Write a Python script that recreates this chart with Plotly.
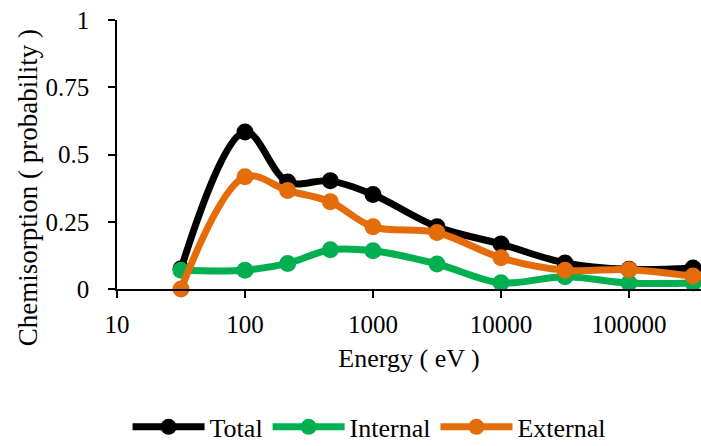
import plotly.graph_objects as go

energy = [31.6228, 100, 215.443, 464.159, 1000, 3162.28, 10000, 31622.8, 100000, 316228]
total = [0.075, 0.584, 0.398, 0.402, 0.351, 0.231, 0.167, 0.097, 0.073, 0.078]
internal = [0.07, 0.07, 0.095, 0.146, 0.142, 0.093, 0.023, 0.046, 0.022, 0.022]
external = [0.0, 0.417, 0.366, 0.324, 0.231, 0.21, 0.116, 0.07, 0.072, 0.048]

series = [("Total", total, "#000000"), ("Internal", internal, "#00B050"), ("External", external, "#E46C0A")]

x_ticks = [10, 100, 1000, 10000, 100000]
x_labels = ["10", "100", "1000", "10000", "100000"]
x_minor = [m * 10 ** d for d in range(1, 6) for m in range(2, 10) if m * 10 ** d < 350000]
y_ticks = [0, 0.25, 0.5, 0.75, 1]
y_labels = ["0", "0.25", "0.5", "0.75", "1"]

font = "'Times New Roman', 'Liberation Serif', serif"

fig = go.Figure()
# minor log ticks drawn as short vertical line markers just below the x axis
fig.add_trace(go.Scatter(
    x=x_minor, y=[-0.0093] * len(x_minor), mode="markers",
    marker=dict(symbol="line-ns", size=5, color="black", line=dict(width=1.2, color="black")),
    showlegend=False, hoverinfo="skip", cliponaxis=False,
))
for name, vals, col in series:
    fig.add_trace(go.Scatter(
        x=energy, y=vals, name=name, mode="lines+markers",
        line=dict(color=col, width=7, shape="spline", smoothing=1),
        marker=dict(color=col, size=17),
        cliponaxis=False,
    ))

fig.update_layout(
    width=701, height=446,
    margin=dict(l=117, r=0, t=20, b=157, autoexpand=False),
    paper_bgcolor="white", plot_bgcolor="white",
    font=dict(family=font, size=25, color="black"),
    showlegend=True,
    legend=dict(orientation="h", x=0.4316, xanchor="center", y=-0.6, yanchor="bottom",
                font=dict(family=font, size=26), itemwidth=72, traceorder="normal",
                tracegroupgap=0, itemclick=False),
    xaxis=dict(
        type="log", range=[1, 5.5625],
        tickmode="array", tickvals=x_ticks, ticktext=x_labels,
        tickfont=dict(family=font, size=25),
        showgrid=False, zeroline=False,
        showline=True, linecolor="black", linewidth=1.5,
        ticks="outside", ticklen=7, tickcolor="black", tickwidth=1.5,
        ticklabelstandoff=5,
        title=dict(text="Energy ( eV )", font=dict(family=font, size=26), standoff=12),
        automargin=False,
    ),
    yaxis=dict(
        range=[0, 1],
        tickmode="array", tickvals=y_ticks, ticktext=y_labels,
        tickfont=dict(family=font, size=25),
        showgrid=False, zeroline=False,
        showline=True, linecolor="black", linewidth=1.5,
        ticks="outside", ticklen=7, tickcolor="black", tickwidth=1.5,
        ticklabelstandoff=14,
        automargin=False,
    ),
    annotations=[dict(
        text="Chemisorption ( probability )", textangle=-90,
        xref="paper", yref="paper", x=-0.1524, y=0.378,
        xanchor="center", yanchor="middle", showarrow=False,
        font=dict(family=font, size=27, color="black"),
    )],
)
fig.write_html("out.html")
